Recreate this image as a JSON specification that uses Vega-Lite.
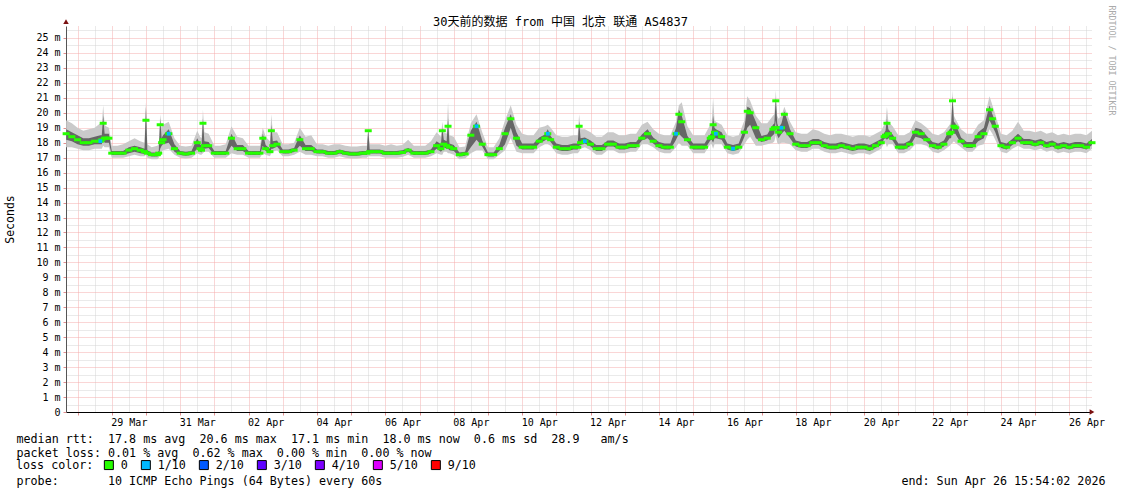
{
"$schema": "https://vega.github.io/schema/vega-lite/v6.json",
"width": 1026,
"height": 386,
"autosize": {"type": "none"},
"padding": {"left": 66, "top": 26, "right": 29, "bottom": 82},
"background": "white",
"config": {"view": {"stroke": null}, "font": "DejaVu Sans Mono"},
"datasets": {
"arrowx": [{"t": "2026-04-26T15:54:00Z", "v": 0}],
"arrowy": [{"t": "2026-03-27T15:54:00Z", "v": 26.1}]
},
"data": {"values": [
{"t":"2026-03-27T16:00:00Z","m":18.6,"lo":17.7,"dl":18.2,"dh":18.9,"hi":19.5},
{"t":"2026-03-27T20:00:00Z","m":18.4,"lo":17.7,"dl":18.1,"dh":18.7,"hi":19.3},
{"t":"2026-03-28T00:00:00Z","m":18.2,"lo":17.6,"dl":17.9,"dh":18.5,"hi":19.0},
{"t":"2026-03-28T04:00:00Z","m":18.0,"lo":17.5,"dl":17.8,"dh":18.3,"hi":18.8},
{"t":"2026-03-28T08:00:00Z","m":18.0,"lo":17.5,"dl":17.8,"dh":18.3,"hi":18.9},
{"t":"2026-03-28T12:00:00Z","m":18.1,"lo":17.6,"dl":17.9,"dh":18.4,"hi":19.0},
{"t":"2026-03-28T16:00:00Z","m":18.1,"lo":17.6,"dl":17.9,"dh":18.5,"hi":19.3,"loss":"1/10"},
{"t":"2026-03-28T17:00:00Z","m":18.2,"lo":17.6,"dl":17.9,"dh":18.5,"hi":19.2},
{"t":"2026-03-28T18:00:00Z","m":19.3,"lo":17.8,"dl":18.2,"dh":19.8,"hi":20.5},
{"t":"2026-03-28T19:00:00Z","m":18.3,"lo":17.7,"dl":18.0,"dh":18.6,"hi":19.2},
{"t":"2026-03-28T20:00:00Z","m":18.3,"lo":17.7,"dl":18.0,"dh":18.6,"hi":19.1},
{"t":"2026-03-28T22:00:00Z","m":18.3,"lo":17.7,"dl":18.0,"dh":18.6,"hi":19.0},
{"t":"2026-03-29T00:00:00Z","m":17.3,"lo":17.0,"dl":17.18,"dh":17.45,"hi":17.8},
{"t":"2026-03-29T04:00:00Z","m":17.3,"lo":17.0,"dl":17.18,"dh":17.45,"hi":17.8},
{"t":"2026-03-29T08:00:00Z","m":17.3,"lo":17.0,"dl":17.18,"dh":17.45,"hi":17.9},
{"t":"2026-03-29T12:00:00Z","m":17.5,"lo":17.1,"dl":17.3,"dh":17.7,"hi":18.1},
{"t":"2026-03-29T16:00:00Z","m":17.6,"lo":17.2,"dl":17.4,"dh":17.8,"hi":18.3},
{"t":"2026-03-29T20:00:00Z","m":17.5,"lo":17.1,"dl":17.3,"dh":17.7,"hi":18.1},
{"t":"2026-03-29T23:00:00Z","m":17.4,"lo":17.1,"dl":17.25,"dh":17.6,"hi":18.0},
{"t":"2026-03-30T00:00:00Z","m":19.5,"lo":17.2,"dl":17.5,"dh":20.4,"hi":20.7},
{"t":"2026-03-30T01:00:00Z","m":17.3,"lo":17.0,"dl":17.18,"dh":17.5,"hi":17.9},
{"t":"2026-03-30T04:00:00Z","m":17.2,"lo":16.9,"dl":17.08,"dh":17.35,"hi":17.7},
{"t":"2026-03-30T08:00:00Z","m":17.2,"lo":16.9,"dl":17.08,"dh":17.35,"hi":17.8},
{"t":"2026-03-30T09:00:00Z","m":17.3,"lo":17.0,"dl":17.15,"dh":17.45,"hi":17.9},
{"t":"2026-03-30T10:00:00Z","m":19.2,"lo":17.2,"dl":17.6,"dh":19.6,"hi":19.9},
{"t":"2026-03-30T11:00:00Z","m":18.0,"lo":17.4,"dl":17.8,"dh":18.3,"hi":19.0},
{"t":"2026-03-30T12:00:00Z","m":18.2,"lo":17.5,"dl":17.9,"dh":18.5,"hi":19.2},
{"t":"2026-03-30T16:00:00Z","m":18.6,"lo":17.6,"dl":18.0,"dh":18.9,"hi":19.4,"loss":"1/10"},
{"t":"2026-03-30T20:00:00Z","m":17.6,"lo":17.2,"dl":17.4,"dh":17.9,"hi":18.3},
{"t":"2026-03-31T00:00:00Z","m":17.3,"lo":17.0,"dl":17.18,"dh":17.45,"hi":17.8},
{"t":"2026-03-31T04:00:00Z","m":17.25,"lo":16.95,"dl":17.13,"dh":17.4,"hi":17.75},
{"t":"2026-03-31T08:00:00Z","m":17.3,"lo":17.0,"dl":17.18,"dh":17.45,"hi":17.8},
{"t":"2026-03-31T12:00:00Z","m":18.0,"lo":17.3,"dl":17.6,"dh":18.3,"hi":18.8},
{"t":"2026-03-31T14:00:00Z","m":17.6,"lo":17.2,"dl":17.4,"dh":17.9,"hi":18.4},
{"t":"2026-03-31T15:00:00Z","m":17.5,"lo":17.2,"dl":17.35,"dh":17.8,"hi":18.3},
{"t":"2026-03-31T16:00:00Z","m":19.3,"lo":17.3,"dl":17.6,"dh":19.6,"hi":20.2},
{"t":"2026-03-31T17:00:00Z","m":17.8,"lo":17.4,"dl":17.6,"dh":18.1,"hi":18.7},
{"t":"2026-03-31T20:00:00Z","m":17.8,"lo":17.4,"dl":17.65,"dh":18.05,"hi":18.6},
{"t":"2026-04-01T00:00:00Z","m":17.3,"lo":17.0,"dl":17.18,"dh":17.45,"hi":17.8},
{"t":"2026-04-01T04:00:00Z","m":17.3,"lo":17.0,"dl":17.18,"dh":17.45,"hi":17.8},
{"t":"2026-04-01T08:00:00Z","m":17.3,"lo":17.0,"dl":17.18,"dh":17.45,"hi":17.9},
{"t":"2026-04-01T12:00:00Z","m":18.3,"lo":17.3,"dl":17.8,"dh":18.6,"hi":19.1},
{"t":"2026-04-01T16:00:00Z","m":17.6,"lo":17.2,"dl":17.45,"dh":17.85,"hi":18.4},
{"t":"2026-04-01T20:00:00Z","m":17.6,"lo":17.2,"dl":17.45,"dh":17.85,"hi":18.3},
{"t":"2026-04-02T00:00:00Z","m":17.3,"lo":17.0,"dl":17.18,"dh":17.45,"hi":17.8},
{"t":"2026-04-02T04:00:00Z","m":17.3,"lo":17.0,"dl":17.18,"dh":17.45,"hi":17.8},
{"t":"2026-04-02T08:00:00Z","m":17.3,"lo":17.0,"dl":17.18,"dh":17.45,"hi":17.8},
{"t":"2026-04-02T10:00:00Z","m":18.3,"lo":17.3,"dl":17.8,"dh":18.6,"hi":19.0},
{"t":"2026-04-02T12:00:00Z","m":17.6,"lo":17.2,"dl":17.45,"dh":17.85,"hi":18.4},
{"t":"2026-04-02T15:00:00Z","m":17.4,"lo":17.1,"dl":17.3,"dh":17.6,"hi":18.1},
{"t":"2026-04-02T16:00:00Z","m":18.8,"lo":17.3,"dl":17.6,"dh":19.2,"hi":19.9},
{"t":"2026-04-02T17:00:00Z","m":17.8,"lo":17.4,"dl":17.6,"dh":18.1,"hi":18.7},
{"t":"2026-04-02T20:00:00Z","m":17.9,"lo":17.5,"dl":17.75,"dh":18.15,"hi":18.7},
{"t":"2026-04-03T00:00:00Z","m":17.4,"lo":17.1,"dl":17.28,"dh":17.55,"hi":17.9},
{"t":"2026-04-03T04:00:00Z","m":17.4,"lo":17.1,"dl":17.28,"dh":17.55,"hi":17.9},
{"t":"2026-04-03T08:00:00Z","m":17.5,"lo":17.2,"dl":17.38,"dh":17.65,"hi":18.0},
{"t":"2026-04-03T12:00:00Z","m":18.2,"lo":17.4,"dl":17.8,"dh":18.5,"hi":19.0},
{"t":"2026-04-03T16:00:00Z","m":17.6,"lo":17.2,"dl":17.45,"dh":17.85,"hi":18.4},
{"t":"2026-04-03T20:00:00Z","m":17.6,"lo":17.2,"dl":17.45,"dh":17.85,"hi":18.5},
{"t":"2026-04-04T00:00:00Z","m":17.4,"lo":17.1,"dl":17.28,"dh":17.55,"hi":17.9},
{"t":"2026-04-04T04:00:00Z","m":17.4,"lo":17.1,"dl":17.28,"dh":17.55,"hi":17.9},
{"t":"2026-04-04T08:00:00Z","m":17.3,"lo":17.0,"dl":17.18,"dh":17.45,"hi":17.8},
{"t":"2026-04-04T12:00:00Z","m":17.3,"lo":17.0,"dl":17.18,"dh":17.45,"hi":17.9},
{"t":"2026-04-04T16:00:00Z","m":17.4,"lo":17.1,"dl":17.28,"dh":17.55,"hi":17.9},
{"t":"2026-04-04T20:00:00Z","m":17.3,"lo":17.0,"dl":17.18,"dh":17.45,"hi":17.8},
{"t":"2026-04-05T00:00:00Z","m":17.25,"lo":16.95,"dl":17.13,"dh":17.4,"hi":17.75},
{"t":"2026-04-05T04:00:00Z","m":17.25,"lo":16.95,"dl":17.13,"dh":17.4,"hi":17.75},
{"t":"2026-04-05T08:00:00Z","m":17.3,"lo":17.0,"dl":17.18,"dh":17.45,"hi":17.8},
{"t":"2026-04-05T11:00:00Z","m":17.3,"lo":17.0,"dl":17.18,"dh":17.45,"hi":17.8},
{"t":"2026-04-05T12:00:00Z","m":18.8,"lo":17.1,"dl":17.4,"dh":18.9,"hi":19.0},
{"t":"2026-04-05T13:00:00Z","m":17.4,"lo":17.1,"dl":17.28,"dh":17.55,"hi":17.9},
{"t":"2026-04-05T16:00:00Z","m":17.4,"lo":17.1,"dl":17.28,"dh":17.55,"hi":17.9},
{"t":"2026-04-05T20:00:00Z","m":17.4,"lo":17.1,"dl":17.28,"dh":17.55,"hi":17.9},
{"t":"2026-04-06T00:00:00Z","m":17.3,"lo":17.0,"dl":17.18,"dh":17.45,"hi":17.8},
{"t":"2026-04-06T04:00:00Z","m":17.3,"lo":17.0,"dl":17.18,"dh":17.45,"hi":17.9},
{"t":"2026-04-06T08:00:00Z","m":17.3,"lo":17.0,"dl":17.18,"dh":17.45,"hi":17.8},
{"t":"2026-04-06T12:00:00Z","m":17.35,"lo":17.05,"dl":17.23,"dh":17.5,"hi":17.85},
{"t":"2026-04-06T16:00:00Z","m":17.5,"lo":17.2,"dl":17.38,"dh":17.65,"hi":18.2},
{"t":"2026-04-06T20:00:00Z","m":17.3,"lo":17.0,"dl":17.18,"dh":17.45,"hi":17.8},
{"t":"2026-04-07T00:00:00Z","m":17.3,"lo":17.0,"dl":17.18,"dh":17.45,"hi":17.8},
{"t":"2026-04-07T04:00:00Z","m":17.3,"lo":17.0,"dl":17.18,"dh":17.45,"hi":17.8},
{"t":"2026-04-07T08:00:00Z","m":17.4,"lo":17.1,"dl":17.28,"dh":17.55,"hi":18.1},
{"t":"2026-04-07T12:00:00Z","m":17.8,"lo":17.3,"dl":17.6,"dh":18.1,"hi":18.7},
{"t":"2026-04-07T15:00:00Z","m":17.6,"lo":17.2,"dl":17.4,"dh":17.9,"hi":18.4},
{"t":"2026-04-07T16:00:00Z","m":18.8,"lo":17.2,"dl":17.5,"dh":19.0,"hi":19.4},
{"t":"2026-04-07T17:00:00Z","m":17.9,"lo":17.4,"dl":17.7,"dh":18.2,"hi":18.7},
{"t":"2026-04-07T19:00:00Z","m":17.8,"lo":17.4,"dl":17.6,"dh":18.1,"hi":18.6},
{"t":"2026-04-07T20:00:00Z","m":19.1,"lo":17.3,"dl":17.6,"dh":19.6,"hi":20.7},
{"t":"2026-04-07T21:00:00Z","m":17.7,"lo":17.3,"dl":17.5,"dh":17.95,"hi":18.5},
{"t":"2026-04-08T00:00:00Z","m":17.6,"lo":17.2,"dl":17.45,"dh":17.85,"hi":18.4},
{"t":"2026-04-08T04:00:00Z","m":17.2,"lo":16.9,"dl":17.08,"dh":17.35,"hi":17.7},
{"t":"2026-04-08T08:00:00Z","m":17.25,"lo":16.95,"dl":17.13,"dh":17.4,"hi":17.75},
{"t":"2026-04-08T12:00:00Z","m":18.5,"lo":17.3,"dl":17.7,"dh":18.8,"hi":19.3},
{"t":"2026-04-08T16:00:00Z","m":19.1,"lo":17.5,"dl":18.2,"dh":19.4,"hi":19.9,"loss":"1/10"},
{"t":"2026-04-08T20:00:00Z","m":17.9,"lo":17.5,"dl":17.75,"dh":18.15,"hi":18.7},
{"t":"2026-04-09T00:00:00Z","m":17.2,"lo":16.9,"dl":17.08,"dh":17.35,"hi":17.7},
{"t":"2026-04-09T04:00:00Z","m":17.2,"lo":16.9,"dl":17.08,"dh":17.35,"hi":17.7},
{"t":"2026-04-09T08:00:00Z","m":17.6,"lo":17.2,"dl":17.45,"dh":17.85,"hi":18.3},
{"t":"2026-04-09T12:00:00Z","m":18.6,"lo":17.5,"dl":17.9,"dh":19.0,"hi":19.5},
{"t":"2026-04-09T16:00:00Z","m":19.6,"lo":18.3,"dl":19.0,"dh":19.9,"hi":20.5},
{"t":"2026-04-09T20:00:00Z","m":18.3,"lo":17.4,"dl":17.8,"dh":18.7,"hi":19.2},
{"t":"2026-04-10T00:00:00Z","m":17.7,"lo":17.3,"dl":17.55,"dh":17.95,"hi":18.6},
{"t":"2026-04-10T04:00:00Z","m":17.7,"lo":17.3,"dl":17.55,"dh":17.95,"hi":18.5},
{"t":"2026-04-10T08:00:00Z","m":17.7,"lo":17.3,"dl":17.55,"dh":17.95,"hi":18.5},
{"t":"2026-04-10T12:00:00Z","m":18.1,"lo":17.7,"dl":17.95,"dh":18.35,"hi":19.0},
{"t":"2026-04-10T16:00:00Z","m":18.3,"lo":17.9,"dl":18.15,"dh":18.55,"hi":19.1},
{"t":"2026-04-10T18:00:00Z","m":18.6,"lo":17.9,"dl":18.3,"dh":18.9,"hi":19.2,"loss":"1/10"},
{"t":"2026-04-10T20:00:00Z","m":18.2,"lo":17.8,"dl":18.05,"dh":18.45,"hi":19.0},
{"t":"2026-04-11T00:00:00Z","m":17.7,"lo":17.3,"dl":17.55,"dh":17.95,"hi":18.5},
{"t":"2026-04-11T04:00:00Z","m":17.6,"lo":17.2,"dl":17.45,"dh":17.85,"hi":18.4},
{"t":"2026-04-11T08:00:00Z","m":17.6,"lo":17.2,"dl":17.45,"dh":17.85,"hi":18.4},
{"t":"2026-04-11T12:00:00Z","m":17.7,"lo":17.3,"dl":17.55,"dh":17.95,"hi":18.5},
{"t":"2026-04-11T15:00:00Z","m":17.7,"lo":17.3,"dl":17.55,"dh":17.95,"hi":18.5},
{"t":"2026-04-11T16:00:00Z","m":19.1,"lo":17.4,"dl":17.8,"dh":19.4,"hi":19.9},
{"t":"2026-04-11T17:00:00Z","m":18.0,"lo":17.6,"dl":17.85,"dh":18.3,"hi":18.9},
{"t":"2026-04-11T20:00:00Z","m":18.1,"lo":17.7,"dl":17.95,"dh":18.35,"hi":18.9,"loss":"1/10"},
{"t":"2026-04-12T00:00:00Z","m":17.9,"lo":17.5,"dl":17.75,"dh":18.15,"hi":18.7},
{"t":"2026-04-12T04:00:00Z","m":17.6,"lo":17.2,"dl":17.45,"dh":17.85,"hi":18.4},
{"t":"2026-04-12T08:00:00Z","m":17.6,"lo":17.2,"dl":17.45,"dh":17.85,"hi":18.4},
{"t":"2026-04-12T12:00:00Z","m":17.9,"lo":17.5,"dl":17.75,"dh":18.15,"hi":18.7},
{"t":"2026-04-12T16:00:00Z","m":17.9,"lo":17.5,"dl":17.75,"dh":18.15,"hi":18.7},
{"t":"2026-04-12T20:00:00Z","m":17.7,"lo":17.3,"dl":17.55,"dh":17.95,"hi":18.5},
{"t":"2026-04-13T00:00:00Z","m":17.7,"lo":17.3,"dl":17.55,"dh":17.95,"hi":18.5},
{"t":"2026-04-13T04:00:00Z","m":17.8,"lo":17.4,"dl":17.65,"dh":18.05,"hi":18.6},
{"t":"2026-04-13T08:00:00Z","m":17.8,"lo":17.4,"dl":17.65,"dh":18.05,"hi":18.6},
{"t":"2026-04-13T12:00:00Z","m":18.3,"lo":17.9,"dl":18.15,"dh":18.55,"hi":19.2},
{"t":"2026-04-13T16:00:00Z","m":18.6,"lo":17.9,"dl":18.3,"dh":18.9,"hi":19.4},
{"t":"2026-04-13T20:00:00Z","m":18.1,"lo":17.7,"dl":17.95,"dh":18.35,"hi":18.9},
{"t":"2026-04-14T00:00:00Z","m":17.8,"lo":17.4,"dl":17.65,"dh":18.05,"hi":18.6},
{"t":"2026-04-14T04:00:00Z","m":17.7,"lo":17.3,"dl":17.55,"dh":17.95,"hi":18.5},
{"t":"2026-04-14T08:00:00Z","m":17.7,"lo":17.3,"dl":17.55,"dh":17.95,"hi":18.5},
{"t":"2026-04-14T12:00:00Z","m":18.6,"lo":17.7,"dl":18.2,"dh":19.0,"hi":19.4,"loss":"1/10"},
{"t":"2026-04-14T14:00:00Z","m":19.9,"lo":18.0,"dl":18.6,"dh":20.2,"hi":20.5},
{"t":"2026-04-14T16:00:00Z","m":19.4,"lo":17.8,"dl":18.4,"dh":19.8,"hi":20.7},
{"t":"2026-04-14T20:00:00Z","m":18.2,"lo":17.8,"dl":18.05,"dh":18.45,"hi":19.1},
{"t":"2026-04-15T00:00:00Z","m":17.7,"lo":17.3,"dl":17.55,"dh":17.95,"hi":18.5},
{"t":"2026-04-15T04:00:00Z","m":17.7,"lo":17.3,"dl":17.55,"dh":17.95,"hi":18.5},
{"t":"2026-04-15T08:00:00Z","m":17.7,"lo":17.3,"dl":17.55,"dh":17.95,"hi":18.5},
{"t":"2026-04-15T12:00:00Z","m":18.3,"lo":17.9,"dl":18.15,"dh":18.55,"hi":19.2},
{"t":"2026-04-15T13:00:00Z","m":18.4,"lo":17.9,"dl":18.2,"dh":18.7,"hi":19.3},
{"t":"2026-04-15T14:00:00Z","m":19.2,"lo":17.6,"dl":18.0,"dh":19.8,"hi":21.0},
{"t":"2026-04-15T15:00:00Z","m":18.7,"lo":17.9,"dl":18.3,"dh":19.0,"hi":19.5},
{"t":"2026-04-15T16:00:00Z","m":18.6,"lo":17.9,"dl":18.3,"dh":18.9,"hi":19.4,"loss":"1/10"},
{"t":"2026-04-15T20:00:00Z","m":18.4,"lo":17.9,"dl":18.2,"dh":18.7,"hi":19.2},
{"t":"2026-04-16T00:00:00Z","m":17.7,"lo":17.3,"dl":17.55,"dh":17.95,"hi":18.5},
{"t":"2026-04-16T04:00:00Z","m":17.6,"lo":17.2,"dl":17.45,"dh":17.85,"hi":18.4,"loss":"1/10"},
{"t":"2026-04-16T08:00:00Z","m":17.7,"lo":17.3,"dl":17.55,"dh":17.95,"hi":18.5},
{"t":"2026-04-16T12:00:00Z","m":18.7,"lo":17.9,"dl":18.4,"dh":19.0,"hi":19.5},
{"t":"2026-04-16T14:00:00Z","m":20.1,"lo":18.2,"dl":19.0,"dh":20.4,"hi":21.1},
{"t":"2026-04-16T16:00:00Z","m":20.0,"lo":18.4,"dl":19.2,"dh":20.3,"hi":20.8},
{"t":"2026-04-16T20:00:00Z","m":19.0,"lo":17.8,"dl":18.3,"dh":19.4,"hi":19.8},
{"t":"2026-04-17T00:00:00Z","m":18.2,"lo":17.8,"dl":18.05,"dh":18.45,"hi":19.3},
{"t":"2026-04-17T04:00:00Z","m":18.3,"lo":17.9,"dl":18.15,"dh":18.55,"hi":19.3},
{"t":"2026-04-17T08:00:00Z","m":18.9,"lo":18.0,"dl":18.5,"dh":19.2,"hi":19.8},
{"t":"2026-04-17T09:00:00Z","m":19.0,"lo":18.1,"dl":18.6,"dh":19.3,"hi":19.9},
{"t":"2026-04-17T10:00:00Z","m":20.8,"lo":18.5,"dl":19.5,"dh":21.0,"hi":21.5},
{"t":"2026-04-17T11:00:00Z","m":19.0,"lo":18.0,"dl":18.5,"dh":19.3,"hi":19.8},
{"t":"2026-04-17T12:00:00Z","m":18.7,"lo":17.9,"dl":18.3,"dh":19.0,"hi":19.6},
{"t":"2026-04-17T14:00:00Z","m":19.0,"lo":18.0,"dl":18.6,"dh":19.3,"hi":19.8,"loss":"1/10"},
{"t":"2026-04-17T16:00:00Z","m":19.9,"lo":18.0,"dl":18.8,"dh":20.1,"hi":20.4},
{"t":"2026-04-17T20:00:00Z","m":18.6,"lo":17.9,"dl":18.3,"dh":18.9,"hi":19.4},
{"t":"2026-04-18T00:00:00Z","m":17.9,"lo":17.5,"dl":17.75,"dh":18.15,"hi":18.7},
{"t":"2026-04-18T04:00:00Z","m":17.8,"lo":17.4,"dl":17.65,"dh":18.05,"hi":18.6},
{"t":"2026-04-18T08:00:00Z","m":17.8,"lo":17.4,"dl":17.65,"dh":18.05,"hi":18.6},
{"t":"2026-04-18T12:00:00Z","m":18.0,"lo":17.6,"dl":17.85,"dh":18.25,"hi":18.9},
{"t":"2026-04-18T16:00:00Z","m":18.0,"lo":17.6,"dl":17.85,"dh":18.25,"hi":18.8},
{"t":"2026-04-18T20:00:00Z","m":17.8,"lo":17.4,"dl":17.65,"dh":18.05,"hi":18.6},
{"t":"2026-04-19T00:00:00Z","m":17.7,"lo":17.3,"dl":17.55,"dh":17.95,"hi":18.5},
{"t":"2026-04-19T04:00:00Z","m":17.7,"lo":17.3,"dl":17.55,"dh":17.95,"hi":18.6},
{"t":"2026-04-19T08:00:00Z","m":17.8,"lo":17.4,"dl":17.65,"dh":18.05,"hi":18.6},
{"t":"2026-04-19T12:00:00Z","m":17.7,"lo":17.3,"dl":17.55,"dh":17.95,"hi":18.5},
{"t":"2026-04-19T16:00:00Z","m":17.6,"lo":17.2,"dl":17.45,"dh":17.85,"hi":18.4},
{"t":"2026-04-19T20:00:00Z","m":17.7,"lo":17.3,"dl":17.55,"dh":17.95,"hi":18.5},
{"t":"2026-04-20T00:00:00Z","m":17.7,"lo":17.3,"dl":17.55,"dh":17.95,"hi":18.5},
{"t":"2026-04-20T04:00:00Z","m":17.6,"lo":17.2,"dl":17.45,"dh":17.85,"hi":18.4},
{"t":"2026-04-20T08:00:00Z","m":17.8,"lo":17.4,"dl":17.65,"dh":18.05,"hi":18.6},
{"t":"2026-04-20T12:00:00Z","m":18.0,"lo":17.6,"dl":17.85,"dh":18.25,"hi":18.8},
{"t":"2026-04-20T14:00:00Z","m":18.4,"lo":18.0,"dl":18.25,"dh":18.65,"hi":19.2},
{"t":"2026-04-20T15:00:00Z","m":18.5,"lo":18.0,"dl":18.3,"dh":18.8,"hi":19.3},
{"t":"2026-04-20T16:00:00Z","m":19.3,"lo":17.7,"dl":18.2,"dh":19.6,"hi":20.4},
{"t":"2026-04-20T17:00:00Z","m":18.6,"lo":17.9,"dl":18.3,"dh":18.9,"hi":19.4},
{"t":"2026-04-20T20:00:00Z","m":18.3,"lo":17.9,"dl":18.15,"dh":18.55,"hi":19.1},
{"t":"2026-04-21T00:00:00Z","m":17.7,"lo":17.3,"dl":17.55,"dh":17.95,"hi":18.5},
{"t":"2026-04-21T04:00:00Z","m":17.7,"lo":17.3,"dl":17.55,"dh":17.95,"hi":18.5},
{"t":"2026-04-21T08:00:00Z","m":17.9,"lo":17.5,"dl":17.75,"dh":18.15,"hi":18.7},
{"t":"2026-04-21T12:00:00Z","m":18.7,"lo":17.9,"dl":18.4,"dh":19.0,"hi":19.5},
{"t":"2026-04-21T16:00:00Z","m":18.6,"lo":17.9,"dl":18.3,"dh":18.9,"hi":19.3},
{"t":"2026-04-21T20:00:00Z","m":18.2,"lo":17.8,"dl":18.05,"dh":18.45,"hi":19.0},
{"t":"2026-04-22T00:00:00Z","m":17.8,"lo":17.4,"dl":17.65,"dh":18.05,"hi":18.6},
{"t":"2026-04-22T04:00:00Z","m":17.7,"lo":17.3,"dl":17.55,"dh":17.95,"hi":18.5},
{"t":"2026-04-22T08:00:00Z","m":17.9,"lo":17.5,"dl":17.75,"dh":18.15,"hi":18.7},
{"t":"2026-04-22T12:00:00Z","m":18.6,"lo":17.8,"dl":18.3,"dh":18.9,"hi":19.2},
{"t":"2026-04-22T13:00:00Z","m":18.7,"lo":17.9,"dl":18.3,"dh":19.0,"hi":19.4},
{"t":"2026-04-22T14:00:00Z","m":20.8,"lo":18.0,"dl":19.0,"dh":21.1,"hi":21.5},
{"t":"2026-04-22T15:00:00Z","m":19.1,"lo":18.1,"dl":18.6,"dh":19.4,"hi":19.8},
{"t":"2026-04-22T16:00:00Z","m":19.0,"lo":18.0,"dl":18.6,"dh":19.3,"hi":19.6},
{"t":"2026-04-22T20:00:00Z","m":18.1,"lo":17.7,"dl":17.95,"dh":18.35,"hi":18.9},
{"t":"2026-04-23T00:00:00Z","m":17.8,"lo":17.4,"dl":17.65,"dh":18.05,"hi":18.6},
{"t":"2026-04-23T04:00:00Z","m":17.8,"lo":17.4,"dl":17.65,"dh":18.05,"hi":18.6},
{"t":"2026-04-23T08:00:00Z","m":18.4,"lo":17.8,"dl":18.1,"dh":18.7,"hi":19.2},
{"t":"2026-04-23T12:00:00Z","m":18.6,"lo":17.9,"dl":18.3,"dh":19.0,"hi":19.5},
{"t":"2026-04-23T16:00:00Z","m":20.2,"lo":18.9,"dl":19.5,"dh":20.5,"hi":21.1},
{"t":"2026-04-23T18:00:00Z","m":19.6,"lo":18.6,"dl":19.1,"dh":19.9,"hi":20.5},
{"t":"2026-04-23T20:00:00Z","m":19.1,"lo":18.2,"dl":18.7,"dh":19.4,"hi":19.9},
{"t":"2026-04-24T00:00:00Z","m":17.8,"lo":17.4,"dl":17.65,"dh":18.05,"hi":18.6},
{"t":"2026-04-24T04:00:00Z","m":17.7,"lo":17.3,"dl":17.55,"dh":17.95,"hi":18.5},
{"t":"2026-04-24T08:00:00Z","m":18.0,"lo":17.6,"dl":17.85,"dh":18.25,"hi":18.8},
{"t":"2026-04-24T12:00:00Z","m":18.3,"lo":17.8,"dl":18.1,"dh":18.6,"hi":19.4},
{"t":"2026-04-24T16:00:00Z","m":18.0,"lo":17.6,"dl":17.85,"dh":18.25,"hi":18.8},
{"t":"2026-04-24T20:00:00Z","m":18.0,"lo":17.6,"dl":17.85,"dh":18.25,"hi":18.8},
{"t":"2026-04-25T00:00:00Z","m":17.9,"lo":17.5,"dl":17.75,"dh":18.15,"hi":18.7},
{"t":"2026-04-25T04:00:00Z","m":18.0,"lo":17.6,"dl":17.85,"dh":18.25,"hi":18.8},
{"t":"2026-04-25T08:00:00Z","m":17.8,"lo":17.4,"dl":17.65,"dh":18.05,"hi":18.6},
{"t":"2026-04-25T12:00:00Z","m":17.9,"lo":17.5,"dl":17.75,"dh":18.15,"hi":18.7},
{"t":"2026-04-25T16:00:00Z","m":17.7,"lo":17.3,"dl":17.55,"dh":17.95,"hi":18.5},
{"t":"2026-04-25T20:00:00Z","m":17.8,"lo":17.4,"dl":17.65,"dh":18.05,"hi":18.6},
{"t":"2026-04-26T00:00:00Z","m":17.7,"lo":17.3,"dl":17.55,"dh":17.95,"hi":18.5},
{"t":"2026-04-26T04:00:00Z","m":17.8,"lo":17.4,"dl":17.65,"dh":18.05,"hi":18.6},
{"t":"2026-04-26T08:00:00Z","m":17.8,"lo":17.4,"dl":17.65,"dh":18.05,"hi":18.6},
{"t":"2026-04-26T12:00:00Z","m":17.7,"lo":17.3,"dl":17.55,"dh":17.95,"hi":18.5},
{"t":"2026-04-26T15:54:00Z","m":18.0,"lo":17.6,"dl":17.85,"dh":18.25,"hi":18.8}
]},
"resolve": {"axis": {"x": "independent", "y": "independent"}},
"layer": [
{
"mark": {"type": "area", "color": "#cacaca"},
"encoding": {
"x": {"field": "t", "type": "temporal",
 "scale": {"type": "utc", "nice": false, "domain": [{"year":2026,"month":3,"date":27,"hours":15,"minutes":54,"utc":true},{"year":2026,"month":4,"date":26,"hours":15,"minutes":54,"utc":true}]},
 "axis": {"orient": "bottom",
  "values": [{"year":2026,"month":3,"date":28,"hours":12,"utc":true},{"year":2026,"month":3,"date":29,"hours":12,"utc":true},{"year":2026,"month":3,"date":30,"hours":12,"utc":true},{"year":2026,"month":3,"date":31,"hours":12,"utc":true},{"year":2026,"month":4,"date":1,"hours":12,"utc":true},{"year":2026,"month":4,"date":2,"hours":12,"utc":true},{"year":2026,"month":4,"date":3,"hours":12,"utc":true},{"year":2026,"month":4,"date":4,"hours":12,"utc":true},{"year":2026,"month":4,"date":5,"hours":12,"utc":true},{"year":2026,"month":4,"date":6,"hours":12,"utc":true},{"year":2026,"month":4,"date":7,"hours":12,"utc":true},{"year":2026,"month":4,"date":8,"hours":12,"utc":true},{"year":2026,"month":4,"date":9,"hours":12,"utc":true},{"year":2026,"month":4,"date":10,"hours":12,"utc":true},{"year":2026,"month":4,"date":11,"hours":12,"utc":true},{"year":2026,"month":4,"date":12,"hours":12,"utc":true},{"year":2026,"month":4,"date":13,"hours":12,"utc":true},{"year":2026,"month":4,"date":14,"hours":12,"utc":true},{"year":2026,"month":4,"date":15,"hours":12,"utc":true},{"year":2026,"month":4,"date":16,"hours":12,"utc":true},{"year":2026,"month":4,"date":17,"hours":12,"utc":true},{"year":2026,"month":4,"date":18,"hours":12,"utc":true},{"year":2026,"month":4,"date":19,"hours":12,"utc":true},{"year":2026,"month":4,"date":20,"hours":12,"utc":true},{"year":2026,"month":4,"date":21,"hours":12,"utc":true},{"year":2026,"month":4,"date":22,"hours":12,"utc":true},{"year":2026,"month":4,"date":23,"hours":12,"utc":true},{"year":2026,"month":4,"date":24,"hours":12,"utc":true},{"year":2026,"month":4,"date":25,"hours":12,"utc":true},{"year":2026,"month":4,"date":26,"hours":12,"utc":true}],
  "grid": true, "gridColor": "#d4d4d4", "gridDash": [1, 1], "gridWidth": 1, "labels": false, "ticks": false, "domain": false,
  "title": "end: Sun Apr 26 15:54:02 2026", "titleFont": "DejaVu Sans Mono", "titleFontSize": 11.7, "titleFontWeight": "normal", "titleColor": "#000",
  "titleAnchor": "end", "titleAlign": "right", "titleBaseline": "alphabetic", "titleX": 1039, "titleY": 72}},
"y": {"field": "lo", "type": "quantitative", "scale": {"domain": [0, 25.8], "nice": false},
 "axis": {"orient": "left", "values": [0.5,1.5,2.5,3.5,4.5,5.5,6.5,7.5,8.5,9.5,10.5,11.5,12.5,13.5,14.5,15.5,16.5,17.5,18.5,19.5,20.5,21.5,22.5,23.5,24.5,25.5],
  "grid": true, "gridColor": "#d4d4d4", "gridDash": [1, 1], "labels": false, "ticks": false, "domain": false,
  "title": "probe:\u00a0\u00a0\u00a0\u00a0\u00a0\u00a0\u00a010\u00a0ICMP\u00a0Echo\u00a0Pings\u00a0(64\u00a0Bytes)\u00a0every\u00a060s",
  "titleFont": "DejaVu Sans Mono", "titleFontSize": 11.7, "titleFontWeight": "normal", "titleColor": "#000",
  "titleAngle": 0, "titleX": -50, "titleY": 458, "titleAlign": "left", "titleBaseline": "alphabetic"}},
"y2": {"field": "hi"}
}
},
{
"mark": {"type": "area", "color": "#666666"},
"encoding": {
"x": {"field": "t", "type": "temporal",
 "axis": {"orient": "bottom",
  "values": [{"year":2026,"month":3,"date":28,"utc":true},{"year":2026,"month":3,"date":29,"utc":true},{"year":2026,"month":3,"date":30,"utc":true},{"year":2026,"month":3,"date":31,"utc":true},{"year":2026,"month":4,"date":1,"utc":true},{"year":2026,"month":4,"date":2,"utc":true},{"year":2026,"month":4,"date":3,"utc":true},{"year":2026,"month":4,"date":4,"utc":true},{"year":2026,"month":4,"date":5,"utc":true},{"year":2026,"month":4,"date":6,"utc":true},{"year":2026,"month":4,"date":7,"utc":true},{"year":2026,"month":4,"date":8,"utc":true},{"year":2026,"month":4,"date":9,"utc":true},{"year":2026,"month":4,"date":10,"utc":true},{"year":2026,"month":4,"date":11,"utc":true},{"year":2026,"month":4,"date":12,"utc":true},{"year":2026,"month":4,"date":13,"utc":true},{"year":2026,"month":4,"date":14,"utc":true},{"year":2026,"month":4,"date":15,"utc":true},{"year":2026,"month":4,"date":16,"utc":true},{"year":2026,"month":4,"date":17,"utc":true},{"year":2026,"month":4,"date":18,"utc":true},{"year":2026,"month":4,"date":19,"utc":true},{"year":2026,"month":4,"date":20,"utc":true},{"year":2026,"month":4,"date":21,"utc":true},{"year":2026,"month":4,"date":22,"utc":true},{"year":2026,"month":4,"date":23,"utc":true},{"year":2026,"month":4,"date":24,"utc":true},{"year":2026,"month":4,"date":25,"utc":true},{"year":2026,"month":4,"date":26,"utc":true}],
  "grid": true, "gridColor": "#f4acac", "gridDash": [1, 1], "gridWidth": 1,
  "labels": false, "ticks": true, "tickSize": 3, "tickColor": "#e09090", "domain": false, "title": null}},
"y": {"field": "dl", "type": "quantitative",
 "axis": {"orient": "left", "values": [0,1,2,3,4,5,6,7,8,9,10,11,12,13,14,15,16,17,18,19,20,21,22,23,24,25],
  "grid": true, "gridColor": "#f4acac", "gridDash": [1, 1], "ticks": true, "tickSize": 3, "tickColor": "#e09090",
  "domain": true, "domainColor": "#555555", "labelFont": "DejaVu Sans Mono", "labelFontSize": 10, "labelColor": "#000", "labelPadding": 3,
  "labelExpr": "datum.value == 0 ? '0' : datum.value + ' m'",
  "title": "Seconds", "titleFont": "DejaVu Sans Mono", "titleFontSize": 11.5, "titleFontWeight": "normal", "titleColor": "#000",
  "titleX": -56, "titleY": 193, "titleBaseline": "middle", "titleAlign": "center"}},
"y2": {"field": "dh"}
}
},
{
"mark": {"type": "tick", "orient": "horizontal", "color": "#26ff00", "size": 7, "thickness": 3, "opacity": 1},
"encoding": {
"x": {"field": "t", "type": "temporal",
 "axis": {"orient": "bottom",
  "values": [{"year":2026,"month":3,"date":29,"hours":12,"utc":true},{"year":2026,"month":3,"date":31,"hours":12,"utc":true},{"year":2026,"month":4,"date":2,"hours":12,"utc":true},{"year":2026,"month":4,"date":4,"hours":12,"utc":true},{"year":2026,"month":4,"date":6,"hours":12,"utc":true},{"year":2026,"month":4,"date":8,"hours":12,"utc":true},{"year":2026,"month":4,"date":10,"hours":12,"utc":true},{"year":2026,"month":4,"date":12,"hours":12,"utc":true},{"year":2026,"month":4,"date":14,"hours":12,"utc":true},{"year":2026,"month":4,"date":16,"hours":12,"utc":true},{"year":2026,"month":4,"date":18,"hours":12,"utc":true},{"year":2026,"month":4,"date":20,"hours":12,"utc":true},{"year":2026,"month":4,"date":22,"hours":12,"utc":true},{"year":2026,"month":4,"date":24,"hours":12,"utc":true},{"year":2026,"month":4,"date":26,"hours":12,"utc":true}],
  "labelExpr": "utcFormat(datum.value, '%d %b')", "labelFont": "DejaVu Sans Mono", "labelFontSize": 10, "labelColor": "#000",
  "labelPadding": 5, "labelFlush": false, "labelOverlap": false, "ticks": false, "grid": false, "domain": true, "domainColor": "#000",
  "title": ["median\u00a0rtt:\u00a0\u00a017.8\u00a0ms\u00a0avg\u00a0\u00a020.6\u00a0ms\u00a0max\u00a0\u00a017.1\u00a0ms\u00a0min\u00a0\u00a018.0\u00a0ms\u00a0now\u00a0\u00a00.6\u00a0ms\u00a0sd\u00a0\u00a028.9\u00a0\u00a0\u00a0am/s", "packet\u00a0loss:\u00a00.01\u00a0%\u00a0avg\u00a0\u00a00.62\u00a0%\u00a0max\u00a0\u00a00.00\u00a0%\u00a0min\u00a0\u00a00.00\u00a0%\u00a0now"],
  "titleFont": "DejaVu Sans Mono", "titleFontSize": 11.7, "titleFontWeight": "normal", "titleColor": "#000", "titleLineHeight": 14,
  "titleAnchor": "start", "titleAlign": "left", "titleBaseline": "alphabetic", "titleX": -50, "titleY": 30}},
"y": {"field": "m", "type": "quantitative",
 "axis": {"orient": "right", "labels": false, "ticks": false, "domain": false, "grid": false,
  "title": "RRDTOOL / TOBI OETIKER", "titleFont": "DejaVu Sans Mono", "titleFontSize": 8.3, "titleFontWeight": "normal", "titleColor": "#aaaaaa",
  "titleAngle": 90, "titleX": 18, "titleY": -21, "titleAlign": "left", "titleBaseline": "middle"}}
}
},
{
"transform": [{"filter": "datum.loss"}],
"mark": {"type": "point", "shape": "square", "filled": true, "size": 14, "opacity": 1},
"encoding": {
"x": {"field": "t", "type": "temporal",
 "axis": {"orient": "top", "labels": false, "ticks": false, "domain": false, "grid": false,
  "title": "30天前的数据 from 中国 北京 联通 AS4837", "titleFont": "DejaVu Sans Mono, Noto Sans CJK SC", "titleFontSize": 12, "titleFontWeight": "normal", "titleColor": "#000",
  "titleX": 494, "titleY": -1, "titleAlign": "center", "titleAnchor": "middle", "titleBaseline": "alphabetic"}},
"y": {"field": "m", "type": "quantitative", "axis": null},
"color": {"field": "loss", "type": "nominal",
 "scale": {"domain": ["0", "1/10", "2/10", "3/10", "4/10", "5/10", "9/10"], "range": ["#26ff00", "#00b8ff", "#0059ff", "#5e00ff", "#7e00ff", "#dd00ff", "#ff0000"]},
 "legend": {"orient": "none", "legendX": -50, "legendY": 433, "direction": "horizontal", "title": "loss color:", "titleOrient": "left",
  "symbolType": "square", "symbolSize": 81, "symbolStrokeColor": "#000", "symbolStrokeWidth": 1, "symbolOpacity": 1,
  "labelFont": "DejaVu Sans Mono", "labelFontSize": 11.7, "labelColor": "#000", "labelOffset": 6, "columnPadding": 11,
  "titleFont": "DejaVu Sans Mono", "titleFontSize": 11.7, "titleFontWeight": "normal", "titleColor": "#000", "titlePadding": 9, "padding": 0}}
}
},
{
"data": {"name": "arrowx"},
"mark": {"type": "point", "shape": "triangle-right", "filled": true, "color": "#7a1010", "size": 30, "opacity": 1},
"encoding": {
"x": {"field": "t", "type": "temporal", "axis": null},
"y": {"field": "v", "type": "quantitative", "axis": null}
}
},
{
"data": {"name": "arrowy"},
"mark": {"type": "point", "shape": "triangle-up", "filled": true, "color": "#7a1010", "size": 30, "opacity": 1},
"encoding": {
"x": {"field": "t", "type": "temporal", "axis": null},
"y": {"field": "v", "type": "quantitative", "axis": null}
}
}
]
}
